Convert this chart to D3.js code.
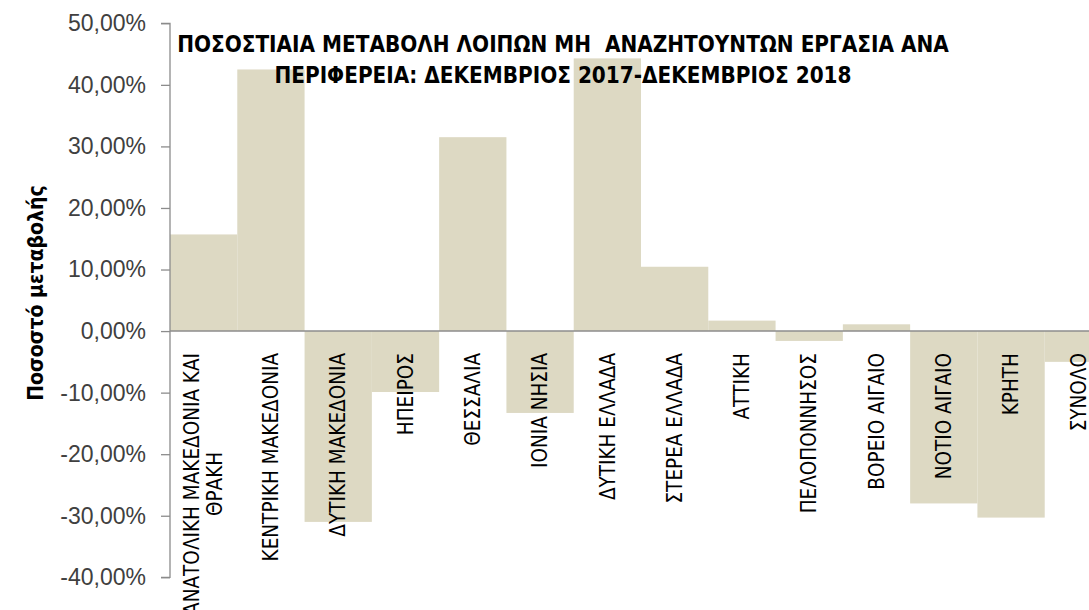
<!DOCTYPE html>
<html>
<head>
<meta charset="utf-8">
<script src="https://cdn.jsdelivr.net/npm/d3@7"></script>
<style>
  body { margin: 0; background: #fff; }
  text { font-family: "Liberation Sans Narrow", "DejaVu Sans Condensed", "Liberation Sans", sans-serif; }
</style>
</head>
<body>
<svg id="chart"></svg>
<script>
      var regions = ["ΑΝΑΤΟΛΙΚΗ ΜΑΚΕΔΟΝΙΑ ΚΑΙ ΘΡΑΚΗ", "ΚΕΝΤΡΙΚΗ ΜΑΚΕΔΟΝΙΑ", "ΔΥΤΙΚΗ ΜΑΚΕΔΟΝΙΑ", "ΗΠΕΙΡΟΣ",
                     "ΘΕΣΣΑΛΙΑ", "ΙΟΝΙΑ ΝΗΣΙΑ", "ΔΥΤΙΚΗ ΕΛΛΑΔΑ", "ΣΤΕΡΕΑ ΕΛΛΑΔΑ", "ΑΤΤΙΚΗ", "ΠΕΛΟΠΟΝΝΗΣΟΣ",
                     "ΒΟΡΕΙΟ ΑΙΓΑΙΟ", "ΝΟΤΙΟ ΑΙΓΑΙΟ", "ΚΡΗΤΗ", "ΣΥΝΟΛΟ"];
      var change  = [15.7, 42.5, -31.0, -9.9, 31.5, -13.3, 44.3, 10.45, 1.7, -1.6, 1.1, -28.0, -30.3, -5.0];
      var yTicks  = [50, 40, 30, 20, 10, 0, -10, -20, -30, -40];
      var titleLines = ["ΠΟΣΟΣΤΙΑΙΑ ΜΕΤΑΒΟΛΗ ΛΟΙΠΩΝ ΜΗ  ΑΝΑΖΗΤΟΥΝΤΩΝ ΕΡΓΑΣΙΑ ΑΝΑ",
                        "ΠΕΡΙΦΕΡΕΙΑ: ΔΕΚΕΜΒΡΙΟΣ 2017-ΔΕΚΕΜΒΡΙΟΣ 2018"];
      var yTitle = "Ποσοστό μεταβολής";

      var svgWidth = 1089, svgHeight = 610;
      var svg = d3.select("#chart").attr("width", svgWidth).attr("height", svgHeight);

      // plot area runs past the right edge, as in the original picture
      var x = d3.scaleBand().domain(regions).range([170, 1112]).padding(0);
      var y = d3.scaleLinear().domain([-40, 50]).range([577.3, 23.3]);

      // bars
      svg.selectAll("rect.bar").data(regions).enter().append("rect")
         .attr("class", "bar")
         .attr("x", function(d) { return x(d); })
         .attr("width", x.bandwidth())
         .attr("y", function(d, i) { return y(Math.max(0, change[i])); })
         .attr("height", function(d, i) { return Math.abs(y(change[i]) - y(0)); })
         .style("fill", "#ddd9c3");

      // zero line
      svg.append("line")
         .attr("x1", 170).attr("x2", svgWidth)
         .attr("y1", y(0)).attr("y2", y(0))
         .style("stroke", "#8c8c8c").style("stroke-width", 1.5);

      // y axis
      var fmt = function(v) { return (v < 0 ? "-" : "") + d3.format(".2f")(Math.abs(v)).replace(".", ",") + "%"; };
      var yAxis = d3.axisLeft(y).tickValues(yTicks).tickSize(9).tickPadding(15).tickFormat(fmt);
      var gy = svg.append("g").attr("transform", "translate(170,0)").call(yAxis);
      gy.select(".domain").attr("d", "M-9," + y(50) + "H0V" + y(-40) + "H-9").style("stroke", "#8c8c8c").style("stroke-width", 1.3);
      gy.selectAll(".tick line").style("stroke", "#8c8c8c").style("stroke-width", 1.3);
      gy.selectAll(".tick text")
        .style("font-family", "'Liberation Sans', Arial, sans-serif")
        .style("font-size", "23px").style("fill", "#404040");

      // y title
      svg.append("text")
         .attr("transform", "translate(36," + 293 + ") rotate(-90)")
         .attr("text-anchor", "middle").attr("dy", "0.35em")
         .style("font-size", "21px").style("font-weight", "bold")
         .text(yTitle);

      // category labels, rotated, top aligned under the zero line
      var maxLen = 275, labSize = "20.5px";
      var lab = svg.selectAll("g.cat").data(regions).enter().append("g")
         .attr("class", "cat");
      lab.each(function(d) {
        var g = d3.select(this);
        var words = d.split(" "), lines = [], cur = "";
        var probe = g.append("text").style("font-size", labSize);
        words.forEach(function(w) {
          var test = cur ? cur + " " + w : w;
          probe.text(test);
          if (probe.node().getComputedTextLength() > maxLen && cur) { lines.push(cur); cur = w; }
          else cur = test;
        });
        lines.push(cur);
        var widest = 0;
        lines.forEach(function(l) { probe.text(l); widest = Math.max(widest, probe.node().getComputedTextLength()); });
        probe.remove();
        var lh = 23;
        var cx = x(d) + x.bandwidth() / 2;
        var cy = 353 + widest / 2;
        lines.forEach(function(l, k) {
          var off = (k - (lines.length - 1) / 2) * lh;
          g.append("text")
           .attr("transform", "translate(" + (cx + off) + "," + cy + ") rotate(-90)")
           .attr("text-anchor", "middle").attr("dy", "0.35em")
           .style("font-size", labSize).style("fill", "#000")
           .text(l);
        });
      });

      // chart title
      svg.selectAll("text.title").data(titleLines).enter().append("text")
         .attr("class", "title")
         .attr("x", 563)
         .attr("y", function(d, i) { return 52 + i * 31; })
         .attr("text-anchor", "middle")
         .style("font-size", "22.3px").style("font-weight", "bold")
         .style("white-space", "pre")
         .text(function(d) { return d; });
</script>
</body>
</html>
